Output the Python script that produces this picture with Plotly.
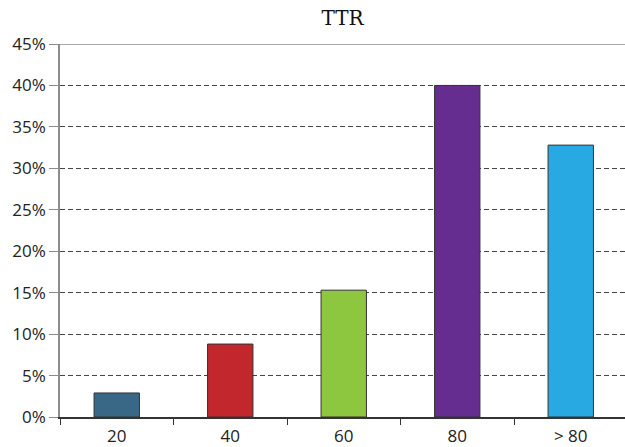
import plotly.graph_objects as go

categories = ["20", "40", "60", "80", "> 80"]
values = [2.9, 8.8, 15.3, 40.0, 32.8]
colors = ["#386886", "#c1272d", "#8dc63f", "#662d91", "#29a9e1"]
y_ticks = [0, 5, 10, 15, 20, 25, 30, 35, 40, 45]
y_tick_labels = [f"{v}%" for v in y_ticks]

fig = go.Figure(go.Bar(
    x=categories, y=values, width=0.4,
    marker=dict(color=colors, line=dict(color="#333333", width=1)),
    hoverinfo="skip",
))

fig.add_shape(type="line", xref="paper", yref="y", x0=0, x1=1, y0=45, y1=45,
              line=dict(color="#8c8c8c", width=1.5), layer="above")

fig.update_layout(
    width=625, height=447,
    margin=dict(l=60, r=0, t=44, b=30, autoexpand=False),
    plot_bgcolor="white", paper_bgcolor="white",
    title=dict(text="TTR", x=0.5, xref="paper", xanchor="center", y=0.96, yanchor="middle",
               font=dict(family="DejaVu Serif", size=20, color="#111111")),
    font=dict(family="Open Sans", size=17, color="#222222"),
    showlegend=False,
)
fig.update_xaxes(
    type="category", range=[-0.5, 4.478], tickson="boundaries",
    ticks="outside", ticklen=6, tickcolor="#333333", tickwidth=1,
    showline=True, linecolor="#333333", linewidth=1.5,
    showgrid=False, automargin=False, ticklabelstandoff=3,
    tickfont=dict(size=17, color="#222222"),
)
fig.update_yaxes(
    range=[0, 45], tickvals=y_ticks, ticktext=y_tick_labels,
    ticks="outside", ticklen=9, tickcolor="#8c8c8c",
    showline=True, linecolor="#8c8c8c", linewidth=1.5,
    showgrid=True, gridcolor="#444444", griddash="5px,3px", gridwidth=1,
    zeroline=False, automargin=False, tickfont=dict(size=17, color="#222222"),
)

fig.write_html("out.html", config={"displayModeBar": False},
               post_script="document.body.style.margin='0';")
